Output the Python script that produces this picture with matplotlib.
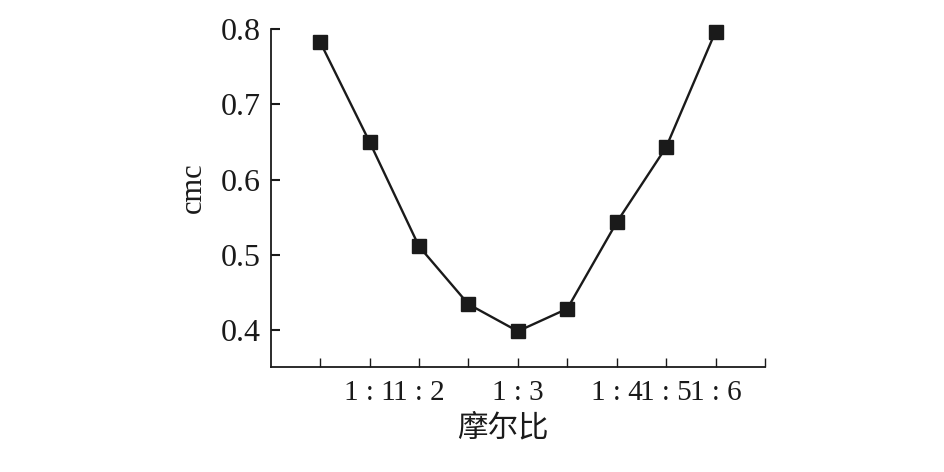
import matplotlib
matplotlib.use("Agg")
import matplotlib.pyplot as plt

# values
positions = [1, 2, 3, 4, 5, 6, 7, 8, 9]
cmc = [0.783, 0.650, 0.511, 0.434, 0.398, 0.428, 0.543, 0.643, 0.797]
tick_pos = [1, 2, 3, 4, 5, 6, 7, 8, 9, 10]
tick_labels = ["", "1 : 1", "1 : 2", "", "1 : 3", "", "1 : 4", "1 : 5", "1 : 6", ""]
yticks = [0.4, 0.5, 0.6, 0.7, 0.8]

serif = ["Liberation Serif", "DejaVu Serif"]
cjk = ["Noto Sans CJK SC", "DejaVu Sans"]
col = "#1a1a1a"

fig = plt.figure(figsize=(9.45, 4.72), dpi=100)
ax = fig.add_axes([0.2865, 0.2218, 0.523, 0.7162])

ax.plot(positions, cmc, color=col, lw=1.7, marker="s", markersize=9.5,
        markerfacecolor=col, markeredgecolor=col, clip_on=False, zorder=3)

ax.set_xlim(0, 10)
ax.set_ylim(0.35, 0.8)
ax.set_xticks(tick_pos)
ax.set_xticklabels(tick_labels, family=serif, fontsize=21)
ax.set_yticks(yticks)
ax.set_yticklabels([f"{v:.1f}" for v in yticks], family=serif, fontsize=23)

for s in ["top", "right"]:
    ax.spines[s].set_visible(False)
for s in ["left", "bottom"]:
    ax.spines[s].set_linewidth(1.3)
    ax.spines[s].set_color(col)

ax.tick_params(axis="x", direction="in", length=6.5, width=1.0, pad=9, colors=col)
ax.tick_params(axis="y", direction="in", length=6.5, width=1.5, pad=7, colors=col)

ax.set_ylabel("cmc", family=serif, fontsize=22, color=col)
ax.yaxis.set_label_coords(-0.127, 0.53)
ax.set_xlabel("摩尔比", family=cjk, fontsize=22, color=col)
ax.xaxis.set_label_coords(0.47, -0.18)
ax.xaxis.label.set_verticalalignment("center")

fig.savefig("out.png", dpi=100)
